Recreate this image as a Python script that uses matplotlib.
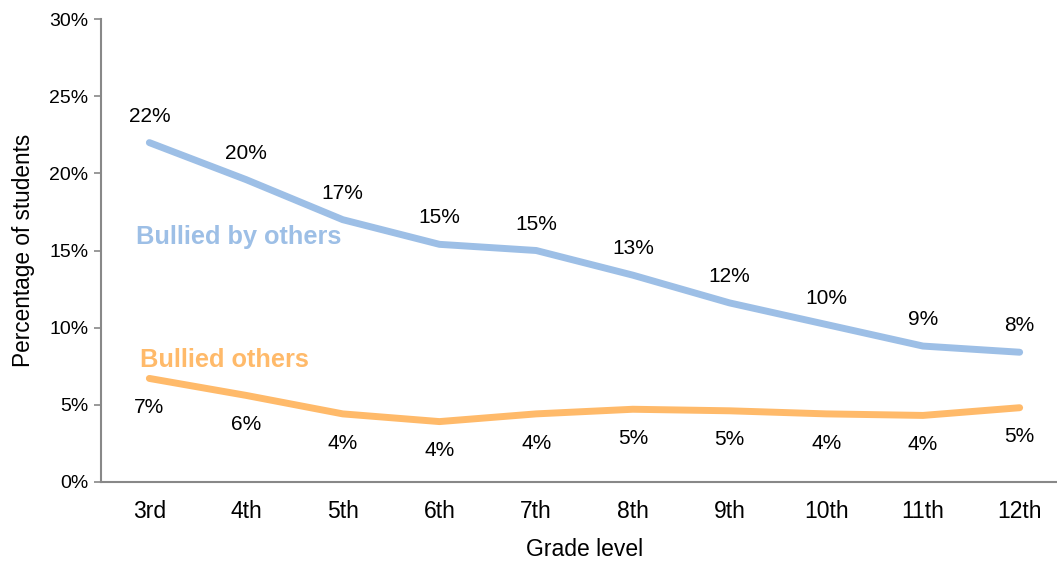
import matplotlib.pyplot as plt

plt.rcParams["font.family"] = ["Liberation Sans", "DejaVu Sans"]

grades = ["3rd", "4th", "5th", "6th", "7th", "8th", "9th", "10th", "11th", "12th"]
bullied_by_others = [22.0, 19.6, 17.0, 15.4, 15.0, 13.4, 11.6, 10.2, 8.8, 8.4]
bullied_others = [6.7, 5.6, 4.4, 3.9, 4.4, 4.7, 4.6, 4.4, 4.3, 4.8]
yticks = [0, 5, 10, 15, 20, 25, 30]

blue = "#9DBFE6"
orange = "#FFBA6A"

fig = plt.figure(figsize=(10.57, 5.63), dpi=100)
ax = fig.add_axes([101 / 1057, 81.3 / 563, 967 / 1057, 462.4 / 563])

x = range(len(grades))
ax.plot(x, bullied_by_others, color=blue, lw=5, solid_capstyle="round", clip_on=False)
ax.plot(x, bullied_others, color=orange, lw=5, solid_capstyle="round", clip_on=False)

# value labels: above the top line, below the bottom one
for i, v in enumerate(bullied_by_others):
    ax.annotate(f"{v:.0f}%", (i, v), xytext=(0, 19), textcoords="offset points",
                ha="center", va="center", fontsize=15)
for i, v in enumerate(bullied_others):
    ax.annotate(f"{v:.0f}%", (i, v), xytext=(0, -21), textcoords="offset points",
                ha="center", va="center", fontsize=15)

ax.text(-0.14, 15.9, "Bullied by others", color=blue, fontsize=18.3, fontweight="bold",
        ha="left", va="center")
ax.text(-0.1, 7.9, "Bullied others", color=orange, fontsize=18.3, fontweight="bold",
        ha="left", va="center")

ax.set_xlim(-0.5, 9.5)
ax.set_ylim(0, 30)
ax.set_xticks(list(x))
ax.set_xticklabels(grades, fontsize=16.5)
ax.set_yticks(yticks)
ax.set_yticklabels([f"{t}%" for t in yticks], fontsize=14)
ax.tick_params(axis="x", length=0, pad=13)
ax.tick_params(axis="y", length=5, width=1.2, color="#888888", pad=4)

for s in ["top", "right"]:
    ax.spines[s].set_visible(False)
for s in ["left", "bottom"]:
    ax.spines[s].set_color("#888888")
    ax.spines[s].set_linewidth(1.5)

ax.set_xlabel("Grade level", fontsize=16.5, labelpad=11)
ax.set_ylabel("Percentage of students", fontsize=16.3, labelpad=10)

fig.savefig("out.png", dpi=100)
